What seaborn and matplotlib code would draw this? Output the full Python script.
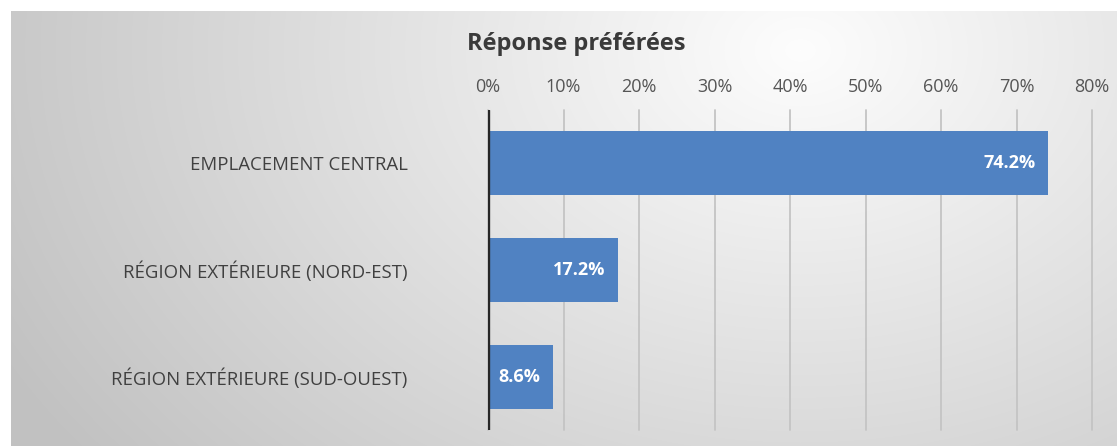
import numpy as np
import pandas as pd
import matplotlib
matplotlib.use('Agg')
import matplotlib.pyplot as plt
import seaborn as sns

# Données
categories = ['EMPLACEMENT CENTRAL',
              'RÉGION EXTÉRIEURE (NORD-EST)',
              'RÉGION EXTÉRIEURE (SUD-OUEST)']
pourcentages = [0.742, 0.172, 0.086]
ticks = [0, 0.1, 0.2, 0.3, 0.4, 0.5, 0.6, 0.7, 0.8]
titre = 'Réponse préférées'

df = pd.DataFrame({'categorie': categories, 'pourcentage': pourcentages})

sns.set_theme(style='white')
plt.rcParams['font.family'] = ['Open Sans', 'DejaVu Sans']

W, H = 1117, 446
fig = plt.figure(figsize=(W / 100, H / 100), dpi=100)
fig.patch.set_facecolor('white')

# fond en dégradé (zone du graphique)
bg = fig.add_axes([11 / W, 0, (W - 11) / W, (H - 11) / H])
yy, xx = np.mgrid[11:H, 11:W]
d = np.sqrt(((xx - 800) / 760.0) ** 2 + ((yy - 50) / 560.0) ** 2)
t = np.clip(d, 0, 1.2)
val = 253 - 50 * t
img = np.dstack([val, val, val]) / 255.0
bg.imshow(img, aspect='auto', extent=[0, 1, 0, 1])
bg.axis('off')

ax = fig.add_axes([488 / W, 1 - 430 / H, (1092 - 488) / W, (430 - 110) / H])
ax.patch.set_alpha(0)

sns.barplot(data=df, y='categorie', x='pourcentage', orient='h',
            color='#5082c2', width=0.6, saturation=1, linewidth=0, ax=ax)

ax.set_xlim(0, 0.8)
ax.set_ylim(2.5, -0.5)
ax.set_xticks(ticks)
ax.set_xticklabels([f'{int(round(v * 100))}%' for v in ticks])
ax.xaxis.tick_top()
ax.tick_params(axis='x', length=0, pad=10, labelsize=13, labelcolor='#555555')
ax.tick_params(axis='y', length=0, pad=58, labelsize=13.4, labelcolor='#404040')
ax.set_xlabel('')
ax.set_ylabel('')
for s in ax.spines.values():
    s.set_visible(False)

ax.grid(axis='x', color='#c4c4c4', linewidth=1.3)
ax.grid(axis='y', visible=False)
ax.set_axisbelow(True)
ax.axvline(0, color='#262626', linewidth=2.4, zorder=5)
# ligne du 80% (bord de l'axe)
for gl in ax.get_xgridlines():
    gl.set_clip_on(False)

for i, v in enumerate(pourcentages):
    ax.annotate(f'{v * 100:.1f}%', xy=(v, i), xytext=(-9, 0),
                textcoords='offset points', ha='right', va='center',
                color='white', fontsize=13, fontweight='bold')

fig.text(576 / W, 1 - 44 / H, titre, ha='center', va='center',
         fontsize=17, fontweight='bold', color='#3a3a3a')

fig.savefig('out.png', dpi=100)
